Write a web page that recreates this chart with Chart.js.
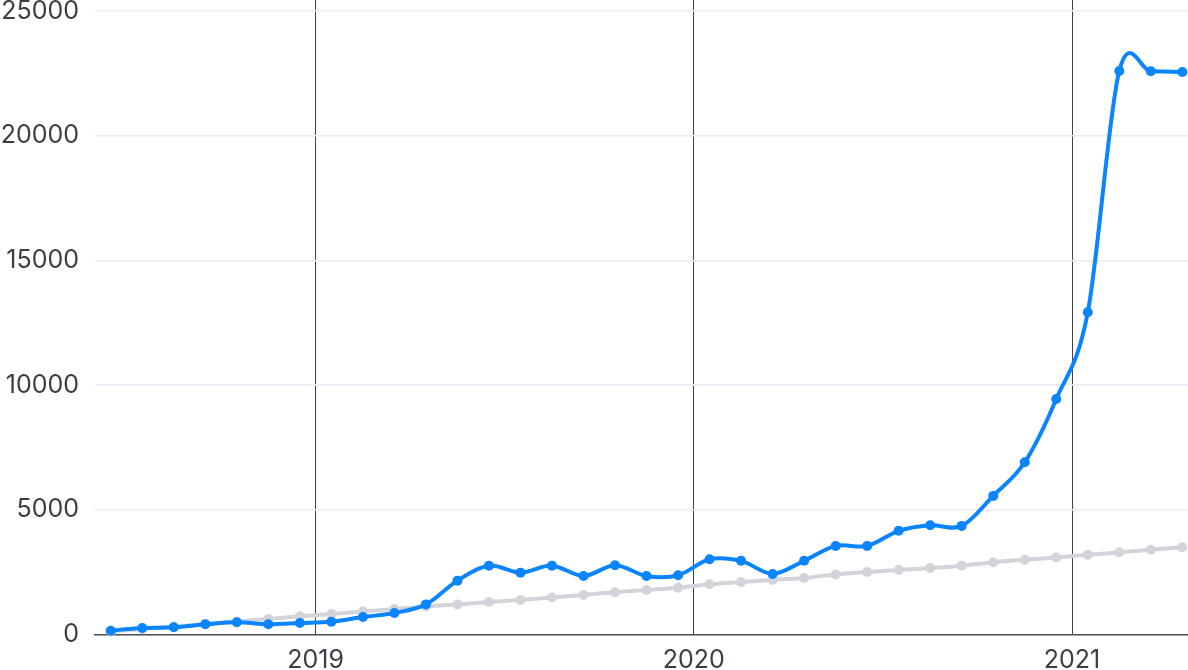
<!DOCTYPE html>
<html>
<head>
<meta charset="utf-8">
<script src="https://cdn.jsdelivr.net/npm/chart.js@4/dist/chart.umd.min.js"></script>
<style>
  html, body { margin: 0; padding: 0; background: #ffffff; overflow: hidden; }
  #wrap { width: 1188px; height: 670px; }
</style>
</head>
<body>
<div id="wrap"><canvas id="c" width="1188" height="670"></canvas></div>
<script>
// ---- data ----
const months = [
  '2018-06','2018-07','2018-08','2018-09','2018-10','2018-11','2018-12',
  '2019-01','2019-02','2019-03','2019-04','2019-05','2019-06','2019-07','2019-08','2019-09','2019-10','2019-11','2019-12',
  '2020-01','2020-02','2020-03','2020-04','2020-05','2020-06','2020-07','2020-08','2020-09','2020-10','2020-11','2020-12',
  '2021-01','2021-02','2021-03','2021-04'
];
const seriesMain = [
  145, 253, 281, 400, 482, 400, 454,
  506, 695, 855, 1200, 2153, 2755, 2474, 2755, 2341, 2771, 2341, 2369,
  3010, 2948, 2422, 2948, 3546, 3546, 4153, 4378, 4349, 5554, 6902, 9442,
  12921, 22604, 22592, 22564
];
const seriesTrend = [
  110, 210, 310, 410, 510, 614, 720,
  815, 920, 1016, 1120, 1200, 1297, 1378, 1474, 1580, 1690, 1779, 1871,
  2008, 2100, 2181, 2261, 2400, 2500, 2582, 2660, 2755, 2892, 2990, 3080,
  3190, 3290, 3390, 3494
];
const yearTicks = ['2019', '2020', '2021'];
const yTicks = [0, 5000, 10000, 15000, 20000, 25000];

// month index helpers (months since Jan 2018, points at mid-month)
const baseYear = 2018;
function monthPos(s) {
  const [y, m] = s.split('-').map(Number);
  return (y - baseYear) * 12 + (m - 1) + 0.5;
}
function yearPos(s) { return (Number(s) - baseYear) * 12; }

const mainPts = months.map((m, i) => ({ x: monthPos(m), y: seriesMain[i] }));
const trendPts = months.map((m, i) => ({ x: monthPos(m), y: seriesTrend[i] }));

const FONT = { family: 'Inter, "Liberation Sans", Arial, sans-serif', size: 25, lineHeight: 1.2 };
const TEXT = '#3a3f47';

// Uniform Catmull-Rom smoothing of the library-computed point positions
const uniformSpline = {
  id: 'uniformSpline',
  beforeDatasetDraw(chart, args) {
    const meta = args.meta;
    const line = meta.dataset;
    const pts = meta.data;
    if (!line || !pts || pts.length < 2) return;
    const k = 1 / 6;
    for (let i = 0; i < pts.length; i++) {
      const p = pts[i];
      const prev = pts[Math.max(0, i - 1)];
      const next = pts[Math.min(pts.length - 1, i + 1)];
      const dx = (next.x - prev.x) * k;
      const dy = (next.y - prev.y) * k;
      p.cp1x = p.x - dx; p.cp1y = p.y - dy;
      p.cp2x = p.x + dx; p.cp2y = p.y + dy;
    }
    line._pointsUpdated = true;
    delete line._path;
  }
};

new Chart(document.getElementById('c'), {
  type: 'line',
  data: {
    datasets: [
      {
        data: mainPts,
        borderColor: '#0a84ff',
        backgroundColor: '#0a84ff',
        borderWidth: 4,
        pointRadius: 5,
        pointBorderWidth: 0,
        tension: 0.4,
        fill: false,
        clip: false
      },
      {
        data: trendPts,
        borderColor: '#d1d5db',
        backgroundColor: '#d1d5db',
        borderWidth: 4,
        pointRadius: 5,
        pointBorderWidth: 0,
        tension: 0.4,
        fill: false,
        clip: false
      }
    ]
  },
  plugins: [uniformSpline],
  options: {
    responsive: false,
    devicePixelRatio: 1,
    animation: false,
    layout: { padding: 0, autoPadding: false },
    plugins: { legend: { display: false }, tooltip: { enabled: false } },
    scales: {
      x: {
        type: 'linear',
        min: 5,
        max: 39.68,
        afterBuildTicks: (s) => { s.ticks = yearTicks.map(t => ({ value: yearPos(t) })); },
        afterFit: (s) => { s.height = 35.7; s.paddingLeft = 0; s.paddingRight = 0; },
        ticks: {
          autoSkip: false,
          maxRotation: 0,
          padding: 11,
          color: TEXT,
          font: FONT,
          callback: (v) => { const i = yearTicks.findIndex(t => yearPos(t) === v); return i >= 0 ? yearTicks[i] : ''; }
        },
        grid: { color: '#3d434b', lineWidth: 1, drawTicks: false },
        border: { display: true, color: '#4a5058', width: 1.5 }
      },
      y: {
        min: 0,
        max: 25450,
        afterBuildTicks: (s) => { s.ticks = yTicks.map(v => ({ value: v })); },
        afterFit: (s) => { s.width = 95; s.paddingTop = 0; s.paddingBottom = 0; },
        ticks: {
          padding: 16,
          color: TEXT,
          font: FONT,
          callback: (v) => String(v)
        },
        grid: { color: '#e8ecf2', lineWidth: 1.5, drawTicks: false },
        border: { display: false }
      }
    }
  }
});
</script>
</body>
</html>
